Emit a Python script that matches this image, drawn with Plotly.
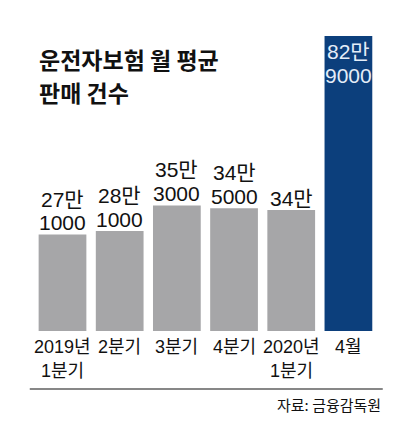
import plotly.graph_objects as go

categories = ["2019년<br>1분기", "2분기", "3분기", "4분기", "2020년<br>1분기", "4월"]
values = [271000, 281000, 353000, 345000, 340000, 829000]
value_labels = ["27만<br>1000", "28만<br>1000", "35만<br>3000", "34만<br>5000", "34만", "82만<br>9000"]
bar_colors = ["#a6a6a8"] * 5 + ["#0c3f7c"]
label_colors = ["#111111"] * 5 + ["#e4edf8"]
label_inside = [False] * 5 + [True]

title_lines = ["운전자보험 월 평균", "판매 건수"]
source_text = "자료: 금융감독원"

CJK = "Noto Sans CJK KR"
NUMFONT = "'Liberation Sans', 'Noto Sans CJK KR', sans-serif"

fig = go.Figure(
    go.Bar(
        x=categories,
        y=values,
        marker=dict(color=bar_colors, line=dict(width=0)),
        hoverinfo="skip",
    )
)

fig.update_layout(
    width=397,
    height=426,
    margin=dict(l=32, r=20, t=36, b=95),
    paper_bgcolor="white",
    plot_bgcolor="white",
    bargap=0.165,
    showlegend=False,
    font=dict(family=NUMFONT, color="#111111"),
    xaxis=dict(
        type="category",
        showgrid=False,
        zeroline=False,
        showline=False,
        ticks="",
        showticklabels=False,
        fixedrange=True,
    ),
    yaxis=dict(
        range=[0, values[-1]],
        visible=False,
        fixedrange=True,
    ),
)

# value labels, one annotation per line, anchored on each bar's top
for cat, val, lab, col, inside in zip(categories, values, value_labels, label_colors, label_inside):
    lines = lab.split("<br>")
    if inside:
        for j, line in enumerate(lines):
            fig.add_annotation(
                x=cat, y=val, xref="x", yref="y", text=line, showarrow=False,
                xanchor="center", yanchor="middle", yshift=-15.5 - 23.5 * j,
                font=dict(family=NUMFONT, size=21, color=col),
            )
    else:
        for j, line in enumerate(reversed(lines)):
            fig.add_annotation(
                x=cat, y=val, xref="x", yref="y", text=line, showarrow=False,
                xanchor="center", yanchor="middle", yshift=12 + 23.5 * j,
                font=dict(family=NUMFONT, size=21, color=col),
            )

# category labels under the bars
for cat in categories:
    for j, line in enumerate(cat.split("<br>")):
        fig.add_annotation(
            x=cat, y=0, xref="x", yref="y", text=line, showarrow=False,
            xanchor="center", yanchor="middle", yshift=-15.5 - 24.5 * j,
            font=dict(family=NUMFONT, size=18, color="#111111"),
        )

fig.add_annotation(
    text=title_lines[0], xref="paper", yref="paper", x=0.0138, y=0.922,
    xanchor="left", yanchor="middle", showarrow=False,
    font=dict(family=CJK, size=23, color="#111111", weight="bold"),
)
fig.add_annotation(
    text=title_lines[1], xref="paper", yref="paper", x=0.0138, y=0.810,
    xanchor="left", yanchor="middle", showarrow=False,
    font=dict(family=CJK, size=23, color="#111111", weight="bold"),
)
fig.add_annotation(
    text=source_text, xref="paper", yref="paper", x=1.0167, y=-0.2475,
    xanchor="right", yanchor="middle", showarrow=False,
    font=dict(family=CJK, size=15, color="#111111"),
)
fig.add_shape(
    type="line", xref="paper", yref="paper",
    x0=-0.0065, x1=1.0167, y0=-0.1966, y1=-0.1966,
    line=dict(color="#111111", width=1.2),
)

fig.write_html("out.html")
